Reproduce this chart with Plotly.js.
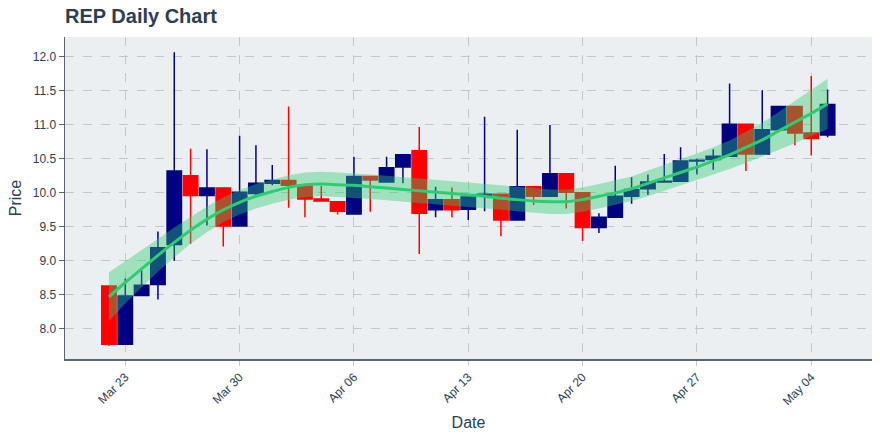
<!DOCTYPE html>
<html>
<head>
<meta charset="utf-8">
<script src="https://cdn.plot.ly/plotly-3.0.1.min.js"></script>
<style>html,body{margin:0;padding:0;background:#fff;}#chart{width:880px;height:440px;}</style>
</head>
<body>
<div id="chart"></div>
<script>
const dates = ["2020-03-22","2020-03-23","2020-03-24","2020-03-25","2020-03-26","2020-03-27","2020-03-28","2020-03-29","2020-03-30","2020-03-31",
"2020-04-01","2020-04-02","2020-04-03","2020-04-04","2020-04-05","2020-04-06","2020-04-07","2020-04-08","2020-04-09","2020-04-10",
"2020-04-11","2020-04-12","2020-04-13","2020-04-14","2020-04-15","2020-04-16","2020-04-17","2020-04-18","2020-04-19","2020-04-20",
"2020-04-21","2020-04-22","2020-04-23","2020-04-24","2020-04-25","2020-04-26","2020-04-27","2020-04-28","2020-04-29","2020-04-30",
"2020-05-01","2020-05-02","2020-05-03","2020-05-04","2020-05-05"];
const openP = [8.63,7.77,8.49,8.65,9.24,10.25,9.96,10.07,9.51,9.99,
10.14,10.18,10.10,9.91,9.87,9.69,10.24,10.16,10.38,10.62,
9.75,9.90,9.76,9.96,9.98,9.60,10.09,9.95,10.28,10.00,
9.49,9.64,9.95,10.06,10.16,10.17,10.47,10.49,10.54,11.01,
10.57,10.93,11.27,10.88,10.85];
const highP = [8.63,8.74,8.86,9.43,12.07,10.65,10.64,10.07,10.84,10.70,
10.41,11.27,10.10,10.10,9.87,10.53,10.24,10.53,10.56,10.97,
10.09,10.08,9.95,11.12,9.98,10.93,10.09,11.00,10.28,10.00,
9.70,10.40,10.23,10.27,10.57,10.67,10.50,10.64,11.61,11.01,
11.51,11.27,11.27,11.72,11.52];
const lowP = [7.75,7.76,8.48,8.43,9.00,9.25,9.52,9.21,9.51,9.95,
10.11,9.78,9.64,9.87,9.68,9.69,9.72,10.16,10.14,9.10,
9.64,9.64,9.60,9.73,9.36,9.60,9.82,9.95,9.77,9.29,
9.41,9.64,9.84,9.97,10.15,10.17,10.27,10.34,10.54,10.32,
10.57,10.93,10.70,10.55,10.82];
const closeP = [7.77,8.48,8.64,9.19,10.32,9.96,10.07,9.51,10.01,10.14,
10.18,10.11,9.91,9.88,9.73,10.24,10.19,10.37,10.56,9.70,
9.90,9.75,9.94,9.98,9.60,10.09,9.95,10.28,10.01,9.49,
9.64,9.95,10.05,10.16,10.17,10.47,10.48,10.54,11.01,10.57,
10.93,11.27,10.88,10.80,11.30];
const trend = [8.47,8.68,8.88,9.08,9.27,9.45,9.61,9.75,9.86,9.95,
10.02,10.08,10.12,10.13,10.12,10.11,10.09,10.07,10.05,10.03,
10.01,9.99,9.97,9.95,9.92,9.90,9.88,9.87,9.87,9.90,
9.95,10.00,10.06,10.14,10.22,10.30,10.38,10.47,10.56,10.67,
10.78,10.91,11.04,11.17,11.31];
const bandUpper = [8.83,8.99,9.15,9.32,9.49,9.65,9.80,9.93,10.04,10.13,
10.20,10.26,10.30,10.31,10.30,10.29,10.27,10.25,10.23,10.21,
10.19,10.17,10.15,10.13,10.10,10.08,10.06,10.05,10.05,10.08,
10.13,10.18,10.24,10.33,10.41,10.49,10.58,10.67,10.77,10.90,
11.03,11.19,11.35,11.51,11.68];
const bandLower = [8.11,8.37,8.61,8.84,9.05,9.25,9.42,9.57,9.68,9.77,
9.84,9.90,9.94,9.95,9.94,9.93,9.91,9.89,9.87,9.85,
9.83,9.81,9.79,9.77,9.74,9.72,9.70,9.69,9.69,9.72,
9.77,9.82,9.88,9.95,10.03,10.11,10.18,10.27,10.35,10.44,
10.53,10.63,10.73,10.83,10.94];
const yTickVals = [8.0,8.5,9.0,9.5,10.0,10.5,11.0,11.5,12.0];

const textColor = '#2c3e50';
const traces = [
  {type:'candlestick', x:dates, open:openP, high:highP, low:lowP, close:closeP,
   increasing:{line:{color:'#000080', width:1.5}, fillcolor:'#000080'},
   decreasing:{line:{color:'#ff0000', width:1.5}, fillcolor:'#ff0000'},
   showlegend:false, hoverinfo:'none'},
  {type:'scatter', mode:'lines', x:dates, y:bandUpper, line:{width:0, color:'rgba(46,204,113,0)'}, showlegend:false, hoverinfo:'skip'},
  {type:'scatter', mode:'lines', x:dates, y:bandLower, line:{width:0, color:'rgba(46,204,113,0)'}, fill:'tonexty', fillcolor:'rgba(46,204,113,0.4)', showlegend:false, hoverinfo:'skip'},
  {type:'scatter', mode:'lines', x:dates, y:trend, line:{width:3, color:'#2ecc71', shape:'spline'}, showlegend:false, hoverinfo:'skip'}
];
const layout = {
  width:880, height:440,
  paper_bgcolor:'#ffffff', plot_bgcolor:'#eceff1',
  margin:{l:65, r:8, t:37, b:81},
  font:{family:'"Liberation Sans", Arial, sans-serif', color:textColor, size:12},
  title:{text:'<b>REP Daily Chart</b>', x:0, xref:'paper', xanchor:'left', y:0.963, yref:'container', yanchor:'middle', font:{size:20, color:textColor}},
  boxgap:0.1, boxgroupgap:0.02,
  showlegend:false,
  xaxis:{type:'date', range:['2020-03-19 07:26','2020-05-07 17:16'], tick0:'2020-03-23', dtick:604800000, tickformat:'%b %d', tickangle:-45,
    showgrid:true, gridcolor:'#c4c7c9', griddash:'dash', gridwidth:1,
    showline:true, linecolor:'#5a6570', linewidth:1.5, ticks:'outside', ticklen:5, tickcolor:'#c4c7c9',
    rangeslider:{visible:false}, zeroline:false,
    title:{text:'Date', standoff:9, font:{size:16, color:textColor}}},
  yaxis:{range:[7.554,12.294], tickvals:yTickVals, tickformat:'.1f',
    showgrid:true, gridcolor:'#c4c7c9', griddash:'dash', gridwidth:1,
    showline:true, linecolor:'#5a6570', linewidth:1.5, ticks:'outside', ticklen:5, tickcolor:'#5a6570', zeroline:false,
    title:{text:'Price', standoff:7, font:{size:16, color:textColor}}}
};
Plotly.newPlot('chart', traces, layout, {staticPlot:true, displayModeBar:false});
</script>
</body>
</html>
